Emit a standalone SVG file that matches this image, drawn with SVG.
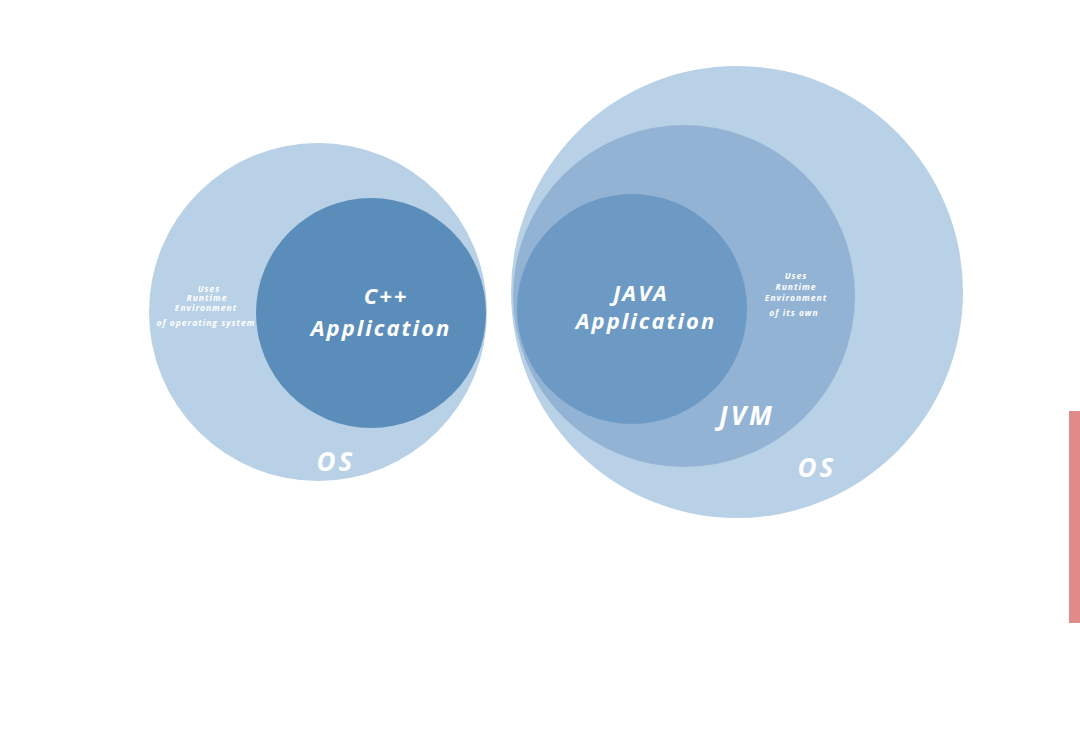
<svg xmlns="http://www.w3.org/2000/svg" width="1080" height="756" viewBox="0 0 1080 756">
<style>
.t{font-family:"Open Sans","DejaVu Sans",sans-serif;font-style:italic;font-weight:bold;fill:#ffffff;text-anchor:middle}
.big{font-size:22px;letter-spacing:2px}
.lbl{font-size:26px;letter-spacing:3px}
.sm{font-size:8.5px;letter-spacing:1px}
</style>
<rect width="1080" height="756" fill="#ffffff"/>
<g id="os-left">
<circle cx="318" cy="312" r="169" fill="#b9d1e6"/>
<text class="t sm" x="209" y="292">Uses</text>
<text class="t sm" x="207" y="301">Runtime</text>
<text class="t sm" x="206" y="311">Environment</text>
<text class="t sm" x="206" y="326">of operating system</text>
<text class="t lbl" x="336" y="471">OS</text>
</g>
<g id="cpp-app">
<circle cx="371" cy="313" r="115" fill="#5b8dba"/>
<text class="t big" x="386" y="304">C++</text>
<text class="t big" x="381" y="336">Application</text>
</g>
<g id="os-right">
<circle cx="737" cy="292" r="226" fill="#b9d1e6"/>
<text class="t lbl" x="817" y="477">OS</text>
</g>
<g id="jvm">
<circle cx="684" cy="296" r="171" fill="#93b3d5"/>
<text class="t sm" x="796" y="279">Uses</text>
<text class="t sm" x="796" y="290">Runtime</text>
<text class="t sm" x="796" y="301">Environment</text>
<text class="t sm" x="794" y="316">of its own</text>
<text class="t lbl" x="747" y="425">JVM</text>
</g>
<g id="java-app">
<circle cx="632" cy="309" r="115" fill="#6c9ac4"/>
<text class="t big" x="641" y="301">JAVA</text>
<text class="t big" x="646" y="329">Application</text>
</g>
<rect x="1069" y="411" width="11" height="212" fill="#e08a8a"/>
<g id="connectors"/>
</svg>
